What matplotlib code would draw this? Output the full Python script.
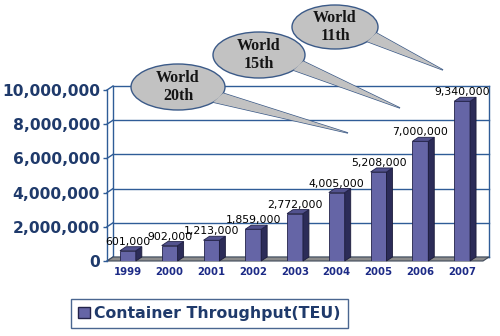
import matplotlib
matplotlib.use("Agg")
import matplotlib.pyplot as plt
from matplotlib.patches import Polygon, Ellipse, Patch
from matplotlib.ticker import FuncFormatter

years = ['1999', '2000', '2001', '2002', '2003', '2004', '2005', '2006', '2007']
throughput = [601000, 902000, 1213000, 1859000, 2772000, 4005000, 5208000, 7000000, 9340000]
y_ticks = [0, 2000000, 4000000, 6000000, 8000000, 10000000]
rank_labels = ['World\n20th', 'World\n15th', 'World\n11th']

W, H = 500, 336
NAVY = '#1f3a6b'
FRONT = '#6565a6'
SIDE = '#2c2c58'
TOP = '#52528e'
GRID = '#2f5c97'

fig = plt.figure(figsize=(W / 100, H / 100), dpi=100)
fig.patch.set_facecolor('white')

# axes box in pixels (front plane)
x0, x1, ytop, ybot = 107, 483, 90, 261
ax = fig.add_axes([x0 / W, (H - ybot) / H, (x1 - x0) / W, (ybot - ytop) / H])
ax.set_xlim(-0.5, len(years) - 0.5)
ax.set_ylim(0, 10000000)
ax.patch.set_visible(False)

# depth offset of the pseudo-3d look, pixels -> data units
dpx, dpy = 6, 4
ddx = dpx * (len(years)) / (x1 - x0)
ddy = dpy * 10000000 / (ybot - ytop)
xmin, xmax = -0.5, len(years) - 0.5

# back wall gridlines + diagonals
for v in y_ticks:
    ax.plot([xmin + ddx, xmax + ddx], [v + ddy, v + ddy], color=GRID, lw=1, zorder=1, clip_on=False)
    ax.plot([xmin, xmin + ddx], [v, v + ddy], color=GRID, lw=1, zorder=1, clip_on=False)
ax.plot([xmin + ddx, xmin + ddx], [ddy, 10000000 + ddy], color=GRID, lw=1, zorder=1, clip_on=False)
ax.plot([xmax + ddx, xmax + ddx], [ddy, 10000000 + ddy], color=GRID, lw=1, zorder=1, clip_on=False)

# floor
ax.add_patch(Polygon([(xmin, 0), (xmax, 0), (xmax + ddx, ddy), (xmin + ddx, ddy)],
                     closed=True, facecolor='#8c8c8c', edgecolor='#404a5a', lw=0.8, zorder=2,
                     clip_on=False))

# bars with side and top faces
bw = 0.38
for i, v in enumerate(throughput):
    z = 3 + i * 2
    ax.bar(i, v, width=bw, color=FRONT, edgecolor='#23234a', lw=0.6, zorder=z)
    r, l = i + bw / 2, i - bw / 2
    ax.add_patch(Polygon([(r, 0), (r, v), (r + ddx, v + ddy), (r + ddx, ddy)],
                         facecolor=SIDE, edgecolor='#1c1c3a', lw=0.6, zorder=z, clip_on=False))
    ax.add_patch(Polygon([(l, v), (r, v), (r + ddx, v + ddy), (l + ddx, v + ddy)],
                         facecolor=TOP, edgecolor='#23234a', lw=0.6, zorder=z, clip_on=False))
    ax.annotate(f'{v:,}', (i, v + ddy), xytext=(0, 0), textcoords='offset points',
                ha='center', va='bottom', fontsize=7.8, color='black', zorder=z + 1,
                annotation_clip=False)

ax.set_xticks(range(len(years)))
ax.set_xticklabels(years, fontsize=7.3, fontweight='bold', color='#1c2a86')
ax.set_yticks(y_ticks)
ax.yaxis.set_major_formatter(FuncFormatter(lambda v, p: f'{int(v):,}'))
for t in ax.get_yticklabels():
    t.set_fontsize(11.2)
    t.set_fontweight('heavy')
    t.set_color(NAVY)
ax.tick_params(axis='x', length=0, pad=4)
ax.tick_params(axis='y', length=3, width=1, color=GRID, pad=2)
for s in ['top', 'right', 'bottom']:
    ax.spines[s].set_visible(False)
ax.spines['left'].set_color(GRID)
ax.spines['left'].set_linewidth(1)

# legend
fig.legend(handles=[Patch(facecolor=FRONT, edgecolor='#23234a')],
           labels=['Container Throughput(TEU)'],
           loc='center', bbox_to_anchor=(209.5 / W, 1 - 313.5 / H),
           prop=dict(weight='bold', size=11.3), labelcolor=NAVY,
           frameon=True, fancybox=False, edgecolor='#4a6690', framealpha=1,
           handlelength=0.75, handleheight=0.75, handletextpad=0.25, borderpad=0.45)

# speech bubbles in pixel coordinates
ov = fig.add_axes([0, 0, 1, 1])
ov.set_xlim(0, W)
ov.set_ylim(H, 0)
ov.axis('off')
bubbles = [
    ((178, 87), 94, 46, (348, 133)),
    ((259, 55), 92, 46, (400, 108)),
    ((335, 27), 86, 44, (443, 70)),
]
for (cx, cy), ew, eh, tip in bubbles:
    a, b = ew / 2, eh / 2
    p1 = (cx + a * 0.96, cy + b * 0.27)
    p2 = (cx + a * 0.75, cy + b * 0.66)
    ov.add_patch(Polygon([p1, tip, p2], facecolor='#c2c2c2', edgecolor='#3b5a88', lw=1, zorder=20))
    ov.add_patch(Ellipse((cx, cy), ew, eh, facecolor='#c2c2c2', edgecolor='#3b5a88', lw=1, zorder=21))
    ov.add_patch(Polygon([p1, tip, p2], facecolor='#c2c2c2', edgecolor='none', zorder=22))
for ((cx, cy), ew, eh, tip), txt in zip(bubbles, rank_labels):
    ov.text(cx, cy, txt, ha='center', va='center', fontsize=11.5, fontweight='bold',
            family='Liberation Serif', color='#141414', linespacing=1.2, zorder=23)

fig.savefig('out.png', dpi=100)
